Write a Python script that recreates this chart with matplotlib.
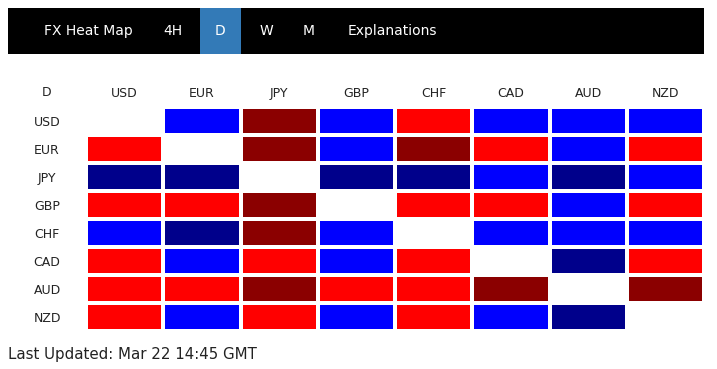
import matplotlib
matplotlib.use("Agg")
import matplotlib.pyplot as plt
import numpy as np
from matplotlib.colors import ListedColormap, BoundaryNorm
from matplotlib.patches import Rectangle

# --- data ---
currencies = ["USD", "EUR", "JPY", "GBP", "CHF", "CAD", "AUD", "NZD"]
timeframe = "D"
menu_items = ["FX Heat Map", "4H", "D", "W", "M", "Explanations"]
last_updated = "Last Updated: Mar 22 14:45 GMT"

# strength level of row vs column: -2 strong blue, -1 blue, 0 none, 1 red, 2 strong red
level_usd = [0, -1, 2, -1, 1, -1, -1, -1]
level_eur = [1, 0, 2, -1, 2, 1, -1, 1]
level_jpy = [-2, -2, 0, -2, -2, -1, -2, -1]
level_gbp = [1, 1, 2, 0, 1, 1, -1, 1]
level_chf = [-1, -2, 2, -1, 0, -1, -1, -1]
level_cad = [1, -1, 1, -1, 1, 0, -2, 1]
level_aud = [1, 1, 2, 1, 1, 2, 0, 2]
level_nzd = [1, -1, 1, -1, 1, -1, -2, 0]

levels = np.array([level_usd, level_eur, level_jpy, level_gbp,
                   level_chf, level_cad, level_aud, level_nzd])

level_colors = ["#00008B", "#0000FF", "#FFFFFF", "#FF0000", "#8B0000"]
cmap = ListedColormap(level_colors)
norm = BoundaryNorm([-2.5, -1.5, -0.5, 0.5, 1.5, 2.5], cmap.N)

W, H = 717, 369
text_col = "#222222"

fig = plt.figure(figsize=(W / 100, H / 100), dpi=100)

# background layer in pixel coordinates for the menu bar and footer
bg = fig.add_axes([0, 0, 1, 1])
bg.set_xlim(0, W)
bg.set_ylim(H, 0)
bg.axis("off")

bg.add_patch(Rectangle((8, 8), 696, 46, color="black", lw=0))
menu_x = [88, 173, 220, 266, 309, 392]
for name, x in zip(menu_items, menu_x):
    if name == timeframe:
        bg.add_patch(Rectangle((200, 8), 41, 46, color="#337AB7", lw=0))
    bg.text(x, 31, name, color="white", fontsize=10, ha="center", va="center")

bg.text(47, 93, timeframe, color=text_col, fontsize=9, ha="center", va="center")
bg.text(8, 354, last_updated, color=text_col, fontsize=10.8, ha="left", va="center")

# heat map grid
ax = fig.add_axes([86 / W, (H - 331) / H, 618 / W, 224 / H])
ax.pcolormesh(levels, cmap=cmap, norm=norm, edgecolors="white", linewidth=1.5)
ax.set_xlim(0, len(currencies))
ax.set_ylim(len(currencies), 0)
ax.set_xticks(np.arange(len(currencies)) + 0.5)
ax.set_yticks(np.arange(len(currencies)) + 0.5)
ax.set_xticklabels(currencies, fontsize=9, color=text_col)
ax.set_yticklabels(currencies, fontsize=9, color=text_col, ha="center")
ax.xaxis.tick_top()
ax.tick_params(axis="x", length=0, pad=5)
ax.tick_params(axis="y", length=0, pad=28)
for s in ax.spines.values():
    s.set_visible(False)

fig.savefig("out.png", dpi=100)
